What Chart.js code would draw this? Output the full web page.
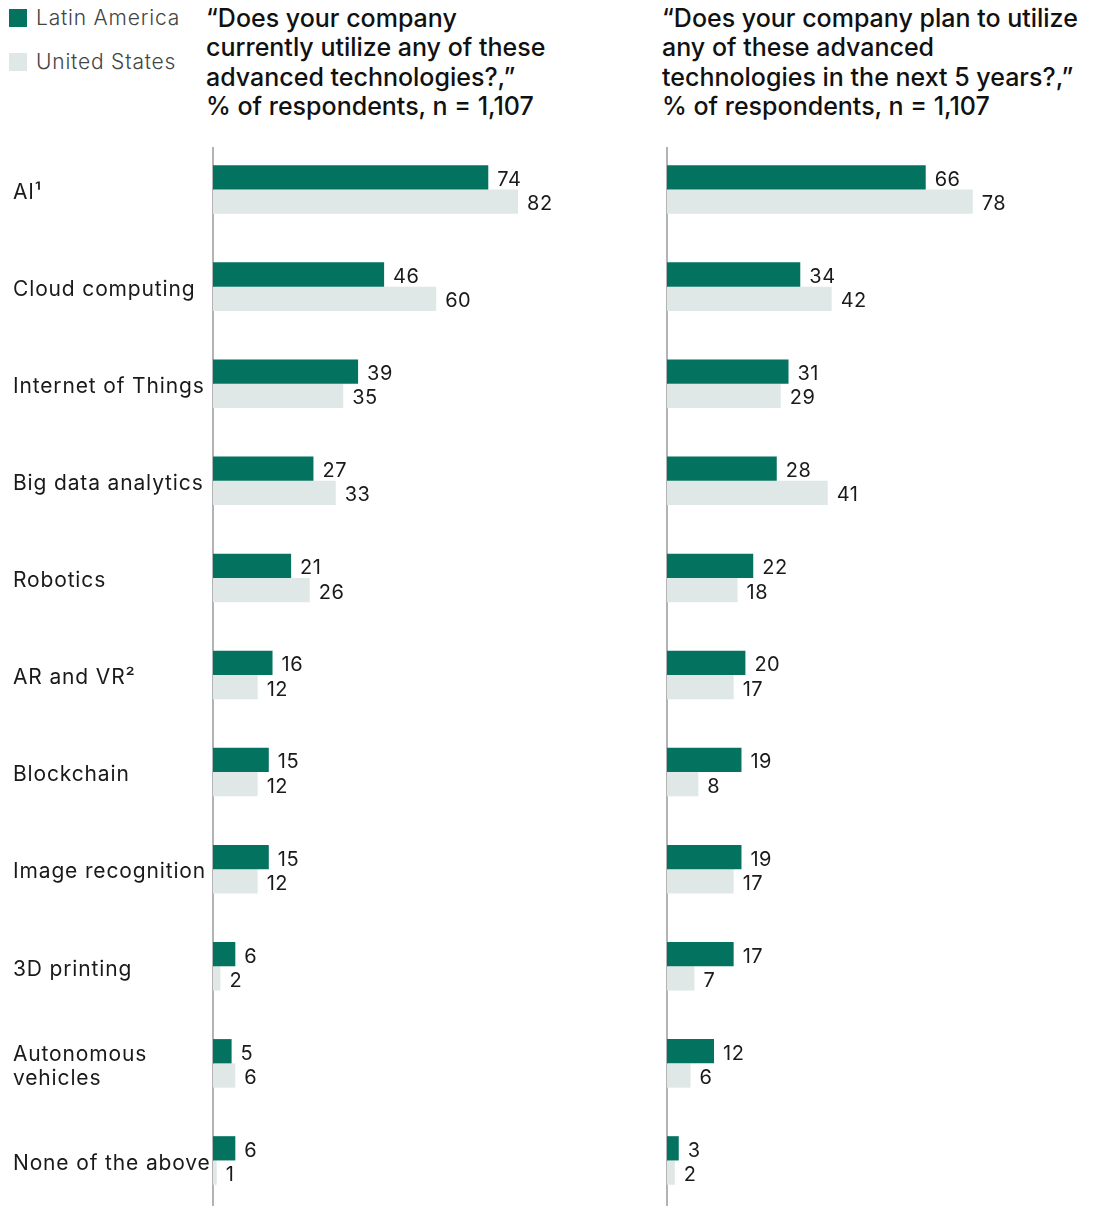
<!DOCTYPE html>
<html>
<head>
<meta charset="utf-8">
<script src="https://cdn.jsdelivr.net/npm/chart.js@4/dist/chart.umd.min.js"></script>
<style>
  html, body { margin: 0; padding: 0; background: #fff; width: 1096px; height: 1206px; overflow: hidden; }
  body { position: relative; font-family: Inter, "Open Sans", sans-serif; }
  .legend { position: absolute; left: 9px; font-size: 21px; color: #444; font-weight: 300; letter-spacing: 0.8px; }
  .legend span.sw { position: absolute; left: 0; top: 0; width: 18px; height: 18px; }
  .legend span.tx { position: absolute; left: 27px; top: -4px; white-space: nowrap; }
  .title { position: absolute; top: 4px; font-size: 25px; line-height: 29.3px; color: #111; font-weight: 500; white-space: nowrap; }
  canvas { position: absolute; }
</style>
</head>
<body>
<div class="legend" style="top:9px"><span class="sw" style="background:#037360"></span><span class="tx">Latin America</span></div>
<div class="legend" style="top:53px"><span class="sw" style="background:#dfe8e6"></span><span class="tx">United States</span></div>
<div class="title" style="left:206px">“Does your company<br>currently utilize any of these<br>advanced technologies?,”<br>% of respondents, n = 1,107</div>
<div class="title" style="left:662px">“Does your company plan to utilize<br>any of these advanced<br>technologies in the next 5 years?,”<br>% of respondents, n = 1,107</div>
<div style="position:absolute;left:13px;top:141px;width:612px;height:1068px"><canvas id="c1"></canvas></div>
<div style="position:absolute;left:660px;top:141px;width:436px;height:1068px"><canvas id="c2"></canvas></div>
<script>
const categories = ["AI¹", "Cloud computing", "Internet of Things", "Big data analytics", "Robotics", "AR and VR²", "Blockchain", "Image recognition", "3D printing", ["Autonomous", "vehicles"], "None of the above"];
const seriesNames = ["Latin America", "United States"];
const latamCurrent = [74, 46, 39, 27, 21, 16, 15, 15, 6, 5, 6];
const usCurrent    = [82, 60, 35, 33, 26, 12, 12, 12, 2, 6, 1];
const latamPlan    = [66, 34, 31, 28, 22, 20, 19, 19, 17, 12, 3];
const usPlan       = [78, 42, 29, 41, 18, 17, 8, 17, 7, 6, 2];

const GREEN = "#037360", GREY = "#dfe8e6";
const FONT = "Inter, 'Open Sans', sans-serif";

const labelPlugin = {
  id: "valueLabels",
  beforeDraw(chart) {
    chart.ctx.letterSpacing = "0.85px";
  },
  beforeDatasetsDraw(chart) {
    const ctx = chart.ctx, a = chart.chartArea;
    ctx.letterSpacing = "0px";
    ctx.save();
    ctx.strokeStyle = "#9a9a9a";
    ctx.lineWidth = 1.5;
    ctx.beginPath();
    ctx.moveTo(a.left, a.top + 6);
    ctx.lineTo(a.left, a.bottom);
    ctx.stroke();
    ctx.restore();
  },
  afterDatasetsDraw(chart) {
    const ctx = chart.ctx;
    ctx.save();
    ctx.letterSpacing = "0.5px";
    ctx.font = "400 20px " + FONT;
    ctx.fillStyle = "#1a1a1a";
    ctx.textAlign = "left";
    ctx.textBaseline = "middle";
    chart.data.datasets.forEach((ds, di) => {
      const meta = chart.getDatasetMeta(di);
      meta.data.forEach((bar, i) => {
        ctx.fillText(String(ds.data[i]), bar.x + 9, bar.y + 2.5);
      });
    });
    ctx.restore();
  }
};

function makeChart(id, a, b, showLabels, padLeft, padRight) {
  return new Chart(document.getElementById(id), {
    type: "bar",
    data: {
      labels: categories,
      datasets: [
        { label: seriesNames[0], data: a, backgroundColor: GREEN },
        { label: seriesNames[1], data: b, backgroundColor: GREY }
      ]
    },
    options: {
      indexAxis: "y",
      responsive: true,
      maintainAspectRatio: false,
      animation: false,
      layout: { padding: { left: padLeft, right: padRight, top: 0, bottom: 0 } },
      categoryPercentage: 0.5,
      barPercentage: 1.0,
      plugins: { legend: { display: false }, tooltip: { enabled: false } },
      scales: {
        x: { display: false, min: 0, max: 100 },
        y: {
          display: showLabels,
          grid: { display: false, drawTicks: false },
          border: { display: false },
          afterFit(scale) {
            if (showLabels) {
              scale.width = 200;
              scale.paddingTop = 0;
              scale.paddingBottom = 0;
            }
          },
          ticks: {
            crossAlign: "far",
            labelOffset: 3,
            color: "#1a1a1a",
            font: { family: FONT, size: 21, weight: "400", lineHeight: 1.15 }
          }
        }
      }
    },
    plugins: [labelPlugin]
  });
}

makeChart("c1", latamCurrent, usCurrent, true, 0, 40);
makeChart("c2", latamPlan, usPlan, false, 7, 37);
</script>
</body>
</html>
